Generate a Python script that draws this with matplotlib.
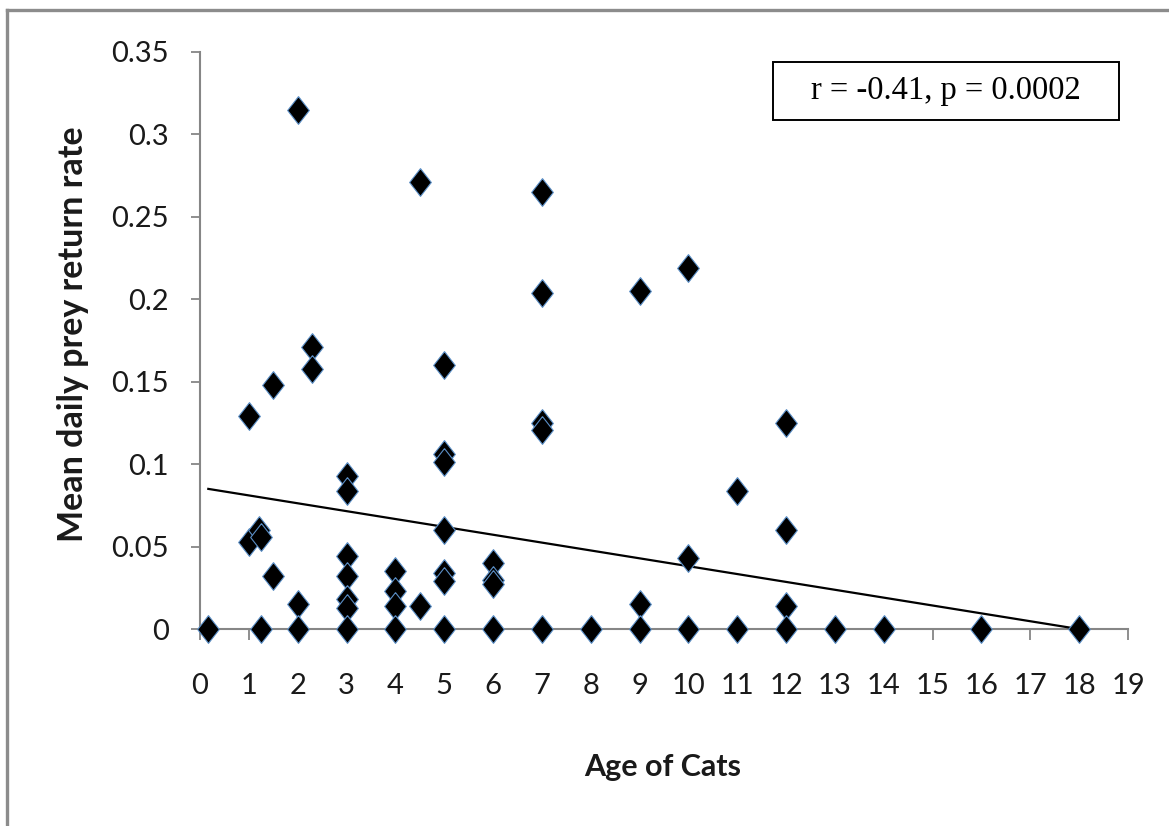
import numpy as np
import matplotlib
matplotlib.use("Agg")
import matplotlib.pyplot as plt
from matplotlib.lines import Line2D
from matplotlib.patches import Rectangle

# ---- data --------------------------------------------------------------------
age = [0.17, 1.0, 1.0, 1.2, 1.25, 1.25, 1.5, 1.5, 2.0, 2.0, 2.0, 2.3, 2.3,
       3, 3, 3, 3, 3, 3, 3,
       4, 4, 4, 4, 4.5, 4.5,
       5, 5, 5, 5, 5, 5, 5,
       6, 6, 6, 6,
       7, 7, 7, 7, 7,
       8, 9, 9, 9, 10, 10, 10, 11, 11,
       12, 12, 12, 12, 13, 14, 16, 18]
prey_rate = [0.0, 0.129, 0.053, 0.060, 0.056, 0.0, 0.148, 0.032, 0.315, 0.015, 0.0, 0.171, 0.158,
             0.093, 0.084, 0.044, 0.032, 0.018, 0.013, 0.0,
             0.035, 0.023, 0.014, 0.0, 0.271, 0.014,
             0.160, 0.106, 0.101, 0.060, 0.034, 0.029, 0.0,
             0.040, 0.030, 0.027, 0.0,
             0.265, 0.204, 0.125, 0.121, 0.0,
             0.0, 0.205, 0.015, 0.0, 0.219, 0.043, 0.0, 0.084, 0.0,
             0.125, 0.060, 0.014, 0.0, 0.0, 0.0, 0.0, 0.0]

# linear trendline as shown on the chart
trend_intercept = 0.0858
trend_slope = -0.00477

x_ticks = list(range(0, 20))
y_ticks = [0, 0.05, 0.1, 0.15, 0.2, 0.25, 0.3, 0.35]
y_tick_labels = ["0", "0.05", "0.1", "0.15", "0.2", "0.25", "0.3", "0.35"]
stats_text = "r = -0.41, p = 0.0002"

# ---- figure ------------------------------------------------------------------
W, H = 1169, 826
fig = plt.figure(figsize=(W / 100, H / 100), dpi=100)
ax = fig.add_axes([200 / W, 1 - 629 / H, 928 / W, 577 / H])

axis_grey = "#868686"

# Excel-style diamond, a bit taller than wide
diamond = [(0, 1), (0.78, 0), (0, -1), (-0.78, 0), (0, 1)]
ax.plot(age, prey_rate, linestyle="none", marker=diamond, markersize=20,
        markerfacecolor="black", markeredgecolor="#5b8fc7",
        markeredgewidth=0.8, zorder=3, clip_on=False)

tx = np.array([min(age), max(age)])
ax.plot(tx, trend_intercept + trend_slope * tx, color="black", lw=1.6, zorder=2)

ax.set_xlim(0, 19)
ax.set_ylim(0, 0.35)
ax.set_xticks(x_ticks)
ax.set_xticklabels([str(t) for t in x_ticks])
ax.set_yticks(y_ticks)
ax.set_yticklabels(y_tick_labels)

for s in ["top", "right"]:
    ax.spines[s].set_visible(False)
for s in ["left", "bottom"]:
    ax.spines[s].set_color(axis_grey)
    ax.spines[s].set_linewidth(1.5)
    ax.spines[s].set_zorder(1)

ax.tick_params(axis="x", direction="out", length=8, width=1.3, color=axis_grey,
               pad=24, labelsize=21, labelcolor="#1a1a1a")
ax.tick_params(axis="y", direction="out", length=6.5, width=1.3, color=axis_grey,
               pad=16, labelsize=21, labelcolor="#1a1a1a")
for lab in ax.get_xticklabels() + ax.get_yticklabels():
    lab.set_fontfamily("Lato")

fig.text(663 / W, 1 - 767 / H, "Age of Cats", ha="center", va="center",
         fontsize=22, fontweight="bold", family="Lato", color="#1a1a1a")
fig.text(73 / W, 1 - 334 / H, "Mean daily prey return rate", ha="center",
         va="center", rotation=90, fontsize=24.5, fontweight="bold",
         family="Lato", color="#1a1a1a")

# stats box
fig.add_artist(Rectangle((773 / W, 1 - 120 / H), 346 / W, 58 / H,
                         transform=fig.transFigure, facecolor="white",
                         edgecolor="black", lw=1.4))
fig.text(946 / W, 1 - 91 / H, stats_text, ha="center", va="center",
         fontsize=23.5, family="Liberation Serif", color="black")

# outer frame (top and left edges visible)
fig.add_artist(Line2D([7 / W, 7 / W], [0, 1 - 10 / H], transform=fig.transFigure,
                      color="#8c8c8c", lw=2.4))
fig.add_artist(Line2D([7 / W, 1], [1 - 10 / H, 1 - 10 / H], transform=fig.transFigure,
                      color="#8c8c8c", lw=2.4))

fig.savefig("out.png", dpi=100, facecolor="white")
